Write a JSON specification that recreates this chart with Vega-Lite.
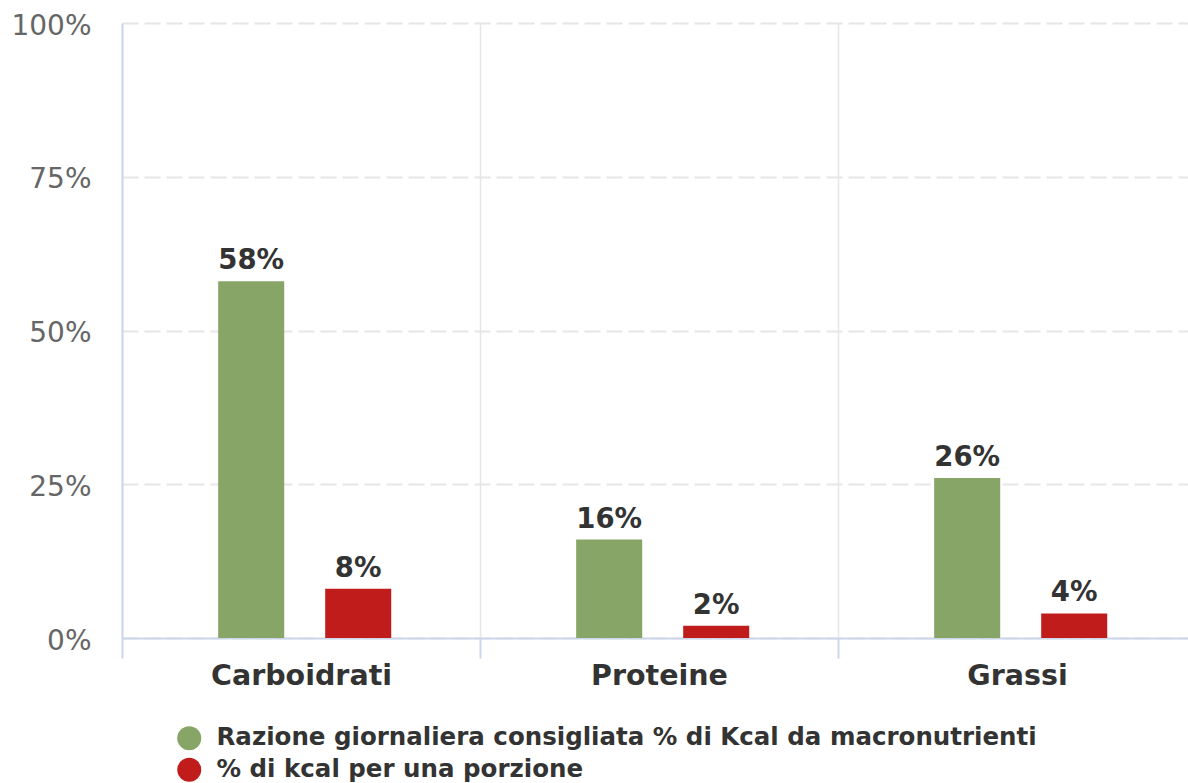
{
  "$schema": "https://vega.github.io/schema/vega-lite/v6.json",
  "width": 1066,
  "height": 615,
  "autosize": "none",
  "padding": {"left": 122, "top": 23, "right": 0, "bottom": 145},
  "background": "white",
  "config": {
    "view": {"stroke": null},
    "font": "DejaVu Sans"
  },
  "data": {
    "values": [
      {"macro": "Carboidrati", "serie": "Razione giornaliera consigliata % di Kcal da macronutrienti", "valore": 0.58},
      {"macro": "Carboidrati", "serie": "% di kcal per una porzione", "valore": 0.08},
      {"macro": "Proteine", "serie": "Razione giornaliera consigliata % di Kcal da macronutrienti", "valore": 0.16},
      {"macro": "Proteine", "serie": "% di kcal per una porzione", "valore": 0.02},
      {"macro": "Grassi", "serie": "Razione giornaliera consigliata % di Kcal da macronutrienti", "valore": 0.26},
      {"macro": "Grassi", "serie": "% di kcal per una porzione", "valore": 0.04}
    ]
  },
  "encoding": {
    "x": {
      "field": "macro",
      "type": "nominal",
      "sort": ["Carboidrati", "Proteine", "Grassi"],
      "scale": {"range": [0, 1074], "paddingInner": 0, "paddingOuter": 0},
      "axis": {
        "title": null,
        "labelAngle": 0,
        "labelFont": "DejaVu Sans",
        "labelFontSize": 28.5,
        "labelFontWeight": "bold",
        "labelColor": "#333333",
        "labelPadding": 3,
        "labelLimit": 400,
        "tickBand": "extent",
        "tickSize": 20,
        "tickColor": "#ccd6eb",
        "tickWidth": 2,
        "domainColor": "#ccd6eb",
        "domainWidth": 2,
        "grid": true,
        "gridColor": "#e6e6e6",
        "gridWidth": 1.5
      }
    },
    "xOffset": {
      "field": "serie",
      "type": "nominal",
      "sort": ["Razione giornaliera consigliata % di Kcal da macronutrienti", "% di kcal per una porzione"],
      "scale": {"paddingInner": 0.383, "paddingOuter": 0.864, "align": 0.52}
    },
    "y": {
      "field": "valore",
      "type": "quantitative",
      "scale": {"domain": [0, 1], "nice": false},
      "axis": {
        "title": null,
        "values": [0, 0.25, 0.5, 0.75, 1],
        "format": ".0%",
        "labelFont": "DejaVu Sans",
        "labelFontSize": 28,
        "labelColor": "#666666",
        "labelPadding": 31,
        "labelOffset": 3,
        "ticks": false,
        "tickSize": 0,
        "domainColor": "#ccd6eb",
        "domainWidth": 2,
        "gridColor": "#e6e6e6",
        "gridWidth": 2,
        "gridDash": [16, 6]
      }
    }
  },
  "layer": [
    {
      "mark": {"type": "bar"},
      "encoding": {
        "color": {
          "field": "serie",
          "type": "nominal",
          "sort": ["Razione giornaliera consigliata % di Kcal da macronutrienti", "% di kcal per una porzione"],
          "scale": {
            "domain": ["Razione giornaliera consigliata % di Kcal da macronutrienti", "% di kcal per una porzione"],
            "range": ["#87a566", "#c01c1c"]
          },
          "legend": {
            "title": null,
            "orient": "none",
            "legendX": 55,
            "legendY": 703,
            "direction": "vertical",
            "padding": 0,
            "symbolType": "circle",
            "symbolSize": 576,
            "symbolStrokeWidth": 0,
            "symbolOpacity": 1,
            "labelFont": "DejaVu Sans",
            "labelFontSize": 24.5,
            "labelFontWeight": "bold",
            "labelColor": "#333333",
            "labelOffset": 15,
            "labelLimit": 1000,
            "rowPadding": 5.5
          }
        }
      }
    },
    {
      "mark": {
        "type": "text",
        "baseline": "alphabetic",
        "align": "center",
        "dy": -12,
        "font": "DejaVu Sans",
        "fontSize": 27.5,
        "fontWeight": "bold",
        "color": "#333333"
      },
      "encoding": {
        "text": {"field": "valore", "type": "quantitative", "format": ".0%"}
      }
    }
  ]
}
